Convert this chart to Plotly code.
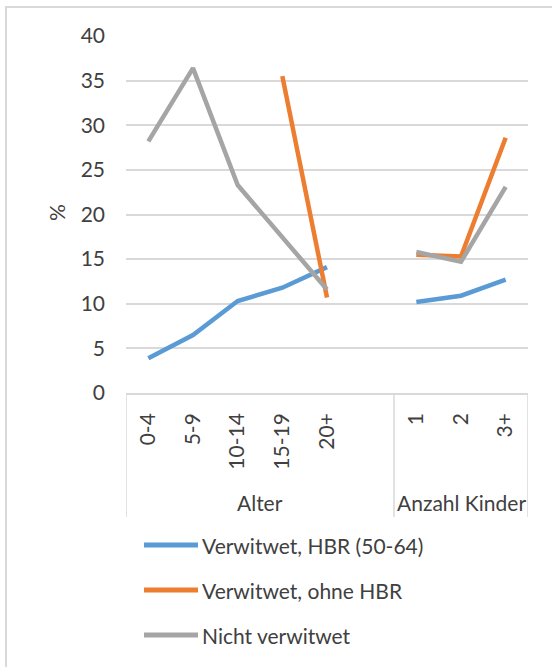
"""Witwen/Witwer-Anteile nach Alter des jüngsten Kindes und Anzahl Kinder"""

import plotly.graph_objects as go

# categories; the blank slot separates the two groups (as in the Excel source)
categories: list[str] = ["0-4", "5-9", "10-14", "15-19", "20+", " ", "1", "2", "3+"]
groups: list[tuple[str, int, int]] = [("Alter", 0, 5), ("Anzahl Kinder", 6, 8)]

verwitwet_hbr: list = [3.9, 6.5, 10.3, 11.8, 14.1, None, 10.2, 10.9, 12.7]
verwitwet_ohne_hbr: list = [None, None, None, 35.5, 10.7, None, 15.5, 15.3, 28.6]
nicht_verwitwet: list = [28.2, 36.4, 23.3, 17.4, 11.6, None, 15.8, 14.7, 23.1]

series_names: list[str] = [
    "Verwitwet, HBR (50-64)",
    "Verwitwet, ohne HBR",
    "Nicht verwitwet",
]
series_values: list[list] = [verwitwet_hbr, verwitwet_ohne_hbr, nicht_verwitwet]
series_colors: list[str] = ["#5b9bd5", "#ed7d31", "#a5a5a5"]

y_ticks: list[int] = [0, 5, 10, 15, 20, 25, 30, 35, 40]

FONT: str = "Lato, 'Open Sans', sans-serif"
FONT_SIZE: int = 21
TEXT_COLOR: str = "#404040"
GRID_COLOR: str = "#d9d9d9"

# pixel geometry of the plot area (552x667 canvas)
W, H = 552, 667
L, R, T, B = 126, 528, 36, 393


def px_x(x: float) -> float:
    """pixel -> paper x"""
    return (x - L) / (R - L)


def px_y(y: float) -> float:
    """pixel -> paper y"""
    return (B - y) / (B - T)


fig: go.Figure = go.Figure()
for name, values, color in zip(series_names, series_values, series_colors):
    fig.add_trace(
        go.Scatter(
            x=categories,
            y=values,
            name=name,
            mode="lines",
            line={"color": color, "width": 4.5},
            connectgaps=False,
            showlegend=False,
        )
    )

shapes: list[dict] = []
annotations: list[dict] = []

# box below the category axis with group dividers
box_bottom: float = px_y(517)
for xpos in [-0.5, 5.5, 8.5]:
    shapes.append(
        {
            "type": "line",
            "xref": "x",
            "yref": "paper",
            "x0": xpos,
            "x1": xpos,
            "y0": 0,
            "y1": box_bottom,
            "line": {"color": GRID_COLOR, "width": 1.5},
        }
    )
for label, first, last in groups:
    annotations.append(
        {
            "text": label,
            "xref": "x",
            "yref": "paper",
            "x": (first + last) / 2,
            "y": px_y(502),
            "showarrow": False,
            "xanchor": "center",
            "yanchor": "middle",
            "font": {"size": FONT_SIZE, "color": TEXT_COLOR},
        }
    )

# y-axis title
annotations.append(
    {
        "text": "%",
        "xref": "paper",
        "yref": "paper",
        "x": px_x(56),
        "y": px_y(213),
        "xanchor": "center",
        "yanchor": "middle",
        "textangle": -90,
        "showarrow": False,
        "font": {"size": FONT_SIZE, "color": TEXT_COLOR},
    }
)

# hand-made legend (long line samples, wide spacing)
for i, (name, color) in enumerate(zip(series_names, series_colors)):
    ly: float = px_y(545 + i * 45)
    shapes.append(
        {
            "type": "line",
            "xref": "paper",
            "yref": "paper",
            "x0": px_x(144),
            "x1": px_x(198),
            "y0": ly,
            "y1": ly,
            "line": {"color": color, "width": 5},
        }
    )
    annotations.append(
        {
            "text": name,
            "xref": "paper",
            "yref": "paper",
            "x": px_x(200),
            "y": ly,
            "xanchor": "left",
            "yanchor": "middle",
            "showarrow": False,
            "font": {"size": FONT_SIZE, "color": TEXT_COLOR},
        }
    )

# outer chart frame
shapes.append(
    {
        "type": "rect",
        "xref": "paper",
        "yref": "paper",
        "x0": px_x(6),
        "x1": px_x(570),
        "y0": px_y(690),
        "y1": px_y(7),
        "line": {"color": GRID_COLOR, "width": 2},
        "fillcolor": "rgba(0,0,0,0)",
        "layer": "below",
    }
)

fig.update_layout(
    {
        "width": W,
        "height": H,
        "autosize": False,
        "margin": {"l": L, "r": W - R, "t": T, "b": H - B, "pad": 0},
        "paper_bgcolor": "white",
        "plot_bgcolor": "white",
        "font": {"family": FONT, "size": FONT_SIZE, "color": TEXT_COLOR},
        "showlegend": False,
        "xaxis": {
            "type": "category",
            "categoryorder": "array",
            "categoryarray": categories,
            "range": [-0.5, len(categories) - 0.5],
            "tickangle": -90,
            "ticks": "",
            "ticklabelstandoff": 10,
            "showgrid": False,
            "showline": True,
            "linecolor": GRID_COLOR,
            "linewidth": 1.5,
            "zeroline": False,
            "tickfont": {"size": FONT_SIZE, "color": TEXT_COLOR},
        },
        "yaxis": {
            "range": [0, 40],
            "tickvals": y_ticks,
            "ticks": "",
            "ticklabelstandoff": 20,
            "showgrid": True,
            "gridcolor": GRID_COLOR,
            "gridwidth": 1.5,
            "zeroline": False,
            "showline": False,
            "tickfont": {"size": FONT_SIZE, "color": TEXT_COLOR},
        },
        "shapes": shapes,
        "annotations": annotations,
    }
)

# the page's default 8px body margin would shift the whole picture
fig.write_html(
    "out.html",
    config={"displayModeBar": False},
    post_script="document.body.style.margin = '0';",
)
